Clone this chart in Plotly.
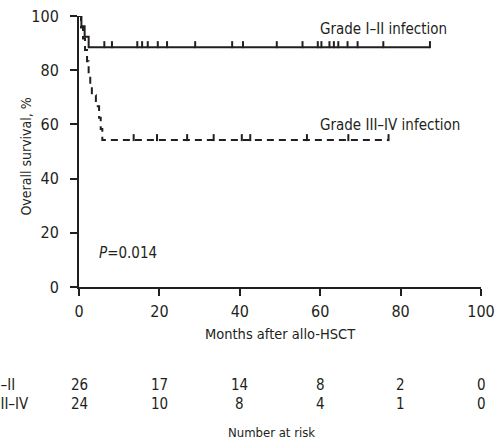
import plotly.graph_objects as go

# ---- data ----
g12_times = [0, 0.6, 1.4, 2.4, 87.3]
g12_surv = [100, 96.2, 92.3, 88.5, 88.5]
g12_censor = [6.3, 8.2, 14.5, 15.7, 17.1, 19.6, 21.9, 28.9, 38.1, 40.8,
              49.2, 55.6, 59.4, 60.3, 62.3, 63.4, 64.5, 66.8, 69.3, 75.7, 87.3]

g34_times = [0, 0.5, 1.0, 1.5, 2.0, 2.4, 2.8, 3.2, 4.2, 5.0, 5.4, 5.8, 77.0]
g34_surv = [100, 95.8, 91.7, 87.5, 83.3, 79.2, 75.0, 70.8, 66.7, 62.5, 58.3, 54.2, 54.2]
g34_censor = [13.6, 19.4, 26.9, 33.5, 40.5, 42.6, 56.7, 67.0, 77.0]

risk_times = [0, 20, 40, 60, 80, 100]
risk_g12 = [26, 17, 14, 8, 2, 0]
risk_g34 = [24, 10, 8, 4, 1, 0]

x_ticks = [0, 20, 40, 60, 80, 100]
y_ticks = [0, 20, 40, 60, 80, 100]

FONT = "DejaVu Sans Condensed, Liberation Sans Narrow, sans-serif"
INK = "#231f20"
FS = 15

W, H = 500, 445
ML, MR, MT, MB = 78.5, 19, 16, 158
PW = W - ML - MR
PH = H - MT - MB


def surv_at(times, surv, t):
    v = surv[0]
    for ti, si in zip(times, surv):
        if ti <= t:
            v = si
    return v


def py_to_paper(py):
    return (H - MB - py) / PH


def px_to_paper(px):
    return (px - ML) / PW


tick_offset = 2.5 * 100 / PH  # lift censor ticks so they sit on top of the line

fig = go.Figure()
fig.add_trace(go.Scatter(x=g12_times, y=g12_surv, mode="lines", line_shape="hv",
                         line=dict(color=INK, width=2), cliponaxis=False, showlegend=False))
fig.add_trace(go.Scatter(x=g34_times, y=g34_surv, mode="lines", line_shape="hv",
                         line=dict(color=INK, width=2, dash="7px,5px"), cliponaxis=False,
                         showlegend=False))
fig.add_trace(go.Scatter(x=g12_censor,
                         y=[surv_at(g12_times, g12_surv, t) + tick_offset for t in g12_censor],
                         mode="markers", cliponaxis=False, showlegend=False,
                         marker=dict(symbol="line-ns", size=5, line=dict(color=INK, width=2))))
fig.add_trace(go.Scatter(x=g34_censor,
                         y=[surv_at(g34_times, g34_surv, t) + tick_offset for t in g34_censor],
                         mode="markers", cliponaxis=False, showlegend=False,
                         marker=dict(symbol="line-ns", size=5, line=dict(color=INK, width=2))))

axis_common = dict(showline=True, linewidth=2, linecolor=INK, ticks="outside", ticklen=7,
                   tickwidth=2, tickcolor=INK, showgrid=False, zeroline=False, automargin=False,
                   tickfont=dict(family=FONT, size=FS + 1, color=INK), fixedrange=True)

fig.update_xaxes(range=[0, 100], tickvals=x_ticks, ticktext=[str(v) for v in x_ticks],
                 ticklabelstandoff=2, **axis_common)
fig.update_yaxes(range=[0, 100], tickvals=y_ticks, ticktext=[str(v) for v in y_ticks],
                 ticklabelstandoff=8, **axis_common)

ann = []
txt = dict(family=FONT, size=FS, color=INK)
ytitle = dict(family=FONT, size=14, color=INK)
small = dict(family=FONT, size=13, color=INK)
ann.append(dict(text="Months after allo-HSCT", xref="paper", yref="paper", x=0.5,
                y=py_to_paper(334), xanchor="center", yanchor="middle", showarrow=False,
                font=dict(family=FONT, size=14.5, color=INK)))
ann.append(dict(text="Overall survival, %", xref="paper", yref="paper", x=px_to_paper(25),
                y=py_to_paper(157), xanchor="center", yanchor="middle", textangle=-90,
                showarrow=False, font=ytitle))
ann.append(dict(text="<i>P</i>=0.014", xref="paper", yref="paper", x=px_to_paper(96.5),
                y=py_to_paper(253), xanchor="left", yanchor="middle", showarrow=False, font=txt))
ann.append(dict(text="Grade I\u2013II infection", xref="paper", yref="paper", x=px_to_paper(318),
                y=py_to_paper(29), xanchor="left", yanchor="middle", showarrow=False, font=txt))
ann.append(dict(text="Grade III\u2013IV infection", xref="paper", yref="paper", x=px_to_paper(318),
                y=py_to_paper(124.5), xanchor="left", yanchor="middle", showarrow=False, font=txt))
ann.append(dict(text="Grade I\u2013II", xref="paper", yref="paper", x=px_to_paper(16),
                y=py_to_paper(384.5), xanchor="right", yanchor="middle", showarrow=False, font=txt))
ann.append(dict(text="Grade III\u2013IV", xref="paper", yref="paper", x=px_to_paper(30),
                y=py_to_paper(404), xanchor="right", yanchor="middle", showarrow=False, font=txt))
for t, a, b in zip(risk_times, risk_g12, risk_g34):
    ann.append(dict(text=str(a), xref="x", yref="paper", x=t, y=py_to_paper(384.5),
                    xanchor="center", yanchor="middle", showarrow=False, font=txt))
    ann.append(dict(text=str(b), xref="x", yref="paper", x=t, y=py_to_paper(404),
                    xanchor="center", yanchor="middle", showarrow=False, font=txt))
ann.append(dict(text="Number at risk", xref="paper", yref="paper", x=px_to_paper(271.5),
                y=py_to_paper(432), xanchor="center", yanchor="middle", showarrow=False, font=small))

fig.update_layout(width=W, height=H, margin=dict(l=ML, r=MR, t=MT, b=MB, pad=0),
                  plot_bgcolor="white", paper_bgcolor="white", annotations=ann,
                  font=dict(family=FONT, size=FS, color=INK), template="none")

fig.write_html("out.html", config={"displayModeBar": False},
               post_script="document.body.style.margin='0';document.body.style.overflow='hidden';")
